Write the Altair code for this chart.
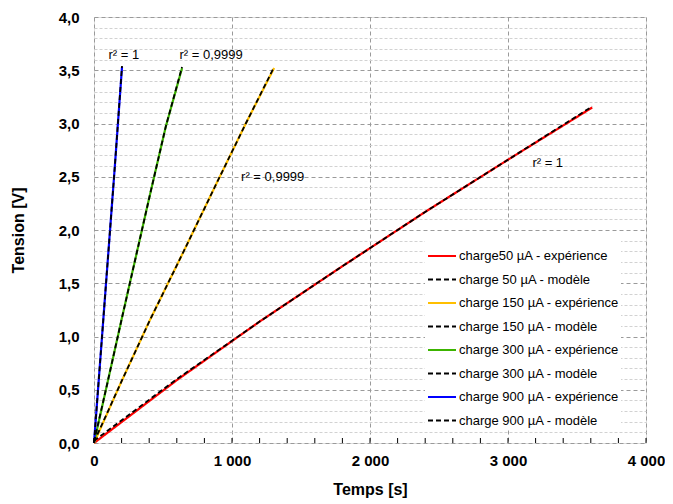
import altair as alt
import pandas as pd

# ---- data ----
series_names = [
    "charge50 µA - expérience",
    "charge 50 µA - modèle",
    "charge 150 µA - expérience",
    "charge 150 µA - modèle",
    "charge 300 µA - expérience",
    "charge 300 µA - modèle",
    "charge 900 µA - expérience",
    "charge 900 µA - modèle",
]
series_colors = ["#ff0000", "#000000", "#ffbf00", "#000000",
                 "#3cb400", "#000000", "#0000ff", "#000000"]

t50 = [0, 600, 1200, 1800, 2400, 3000, 3610]
v50_exp = [0, 0.59, 1.14, 1.66, 2.17, 2.66, 3.15]
v50_mod = [0.02, 0.60, 1.14, 1.66, 2.17, 2.66, 3.16]

t150 = [0, 200, 400, 650, 900, 1100, 1305]
v150_exp = [0, 0.58, 1.14, 1.80, 2.47, 3.00, 3.52]
v150_mod = [0.01, 0.58, 1.14, 1.80, 2.47, 3.00, 3.53]

t300 = [0, 100, 200, 300, 400, 520, 638]
v300_exp = [0, 0.58, 1.16, 1.73, 2.30, 2.97, 3.52]
v300_mod = [0.01, 0.58, 1.16, 1.73, 2.30, 2.97, 3.53]

t900 = [0, 50, 100, 150, 203]
v900_exp = [0, 0.86, 1.72, 2.58, 3.53]
v900_mod = [0, 0.86, 1.72, 2.58, 3.54]

ann_t = [216, 849, 1295, 3288]
ann_v = [3.64, 3.64, 2.50, 2.63]
ann_text = ["r² = 1", "r² = 0,9999", "r² = 0,9999", "r² = 1"]

x_minor_ticks = list(range(0, 4001, 200))
y_grid_values = [round(i * 0.1, 1) for i in range(0, 41)]
x_major = [0, 1000, 2000, 3000, 4000]

# ---- build tables ----
rows = []
for name, ts, vs in [
    (series_names[0], t50, v50_exp), (series_names[1], t50, v50_mod),
    (series_names[2], t150, v150_exp), (series_names[3], t150, v150_mod),
    (series_names[4], t300, v300_exp), (series_names[5], t300, v300_mod),
    (series_names[6], t900, v900_exp), (series_names[7], t900, v900_mod),
]:
    for t, v in zip(ts, vs):
        rows.append({"serie": name, "t": t, "v": v,
                     "kind": "mod" if "modèle" in name else "exp"})
df = pd.DataFrame(rows)
ann = pd.DataFrame({"t": ann_t, "v": ann_v, "label": ann_text})
ticks_df = pd.DataFrame({"t": x_minor_ticks})

W, H = 552, 426
FONT = "Liberation Sans"

x_scale = alt.Scale(domain=[0, 4000], nice=False)
y_scale = alt.Scale(domain=[0, 4], nice=False)

major_test = "abs(datum.value*2 - round(datum.value*2)) < 0.001"

x_axis = alt.Axis(
    title="Temps [s]", values=x_major,
    labelExpr="replace(format(datum.value, ','), ',', ' ')",
    grid=True, gridColor="#9a9a9a", gridDash=[4, 3], gridWidth=1,
    ticks=False, domain=False, labelFontSize=15, labelFontWeight="bold",
    labelPadding=10, titleFontSize=16, titleFontWeight="bold", titlePadding=13,
    labelFont=FONT, titleFont=FONT, labelColor="#000", titleColor="#000",
    labelFlush=False, labelOverlap=False,
)
y_axis = alt.Axis(
    title="Tension [V]", values=y_grid_values,
    labelExpr=f"{major_test} ? replace(format(datum.value, '.1f'), '.', ',') : ''",
    grid=True,
    gridColor={"condition": {"test": major_test, "value": "#9a9a9a"}, "value": "#d2d2d2"},
    gridDash={"condition": {"test": major_test, "value": [4, 3]}, "value": [3, 2]},
    gridWidth=1, ticks=False, domain=False, labelFontSize=15, labelFontWeight="bold",
    labelPadding=15, titleFontSize=16, titleFontWeight="bold", titlePadding=32,
    labelFont=FONT, titleFont=FONT, labelColor="#000", titleColor="#000",
    labelOverlap=False, labelFlush=False,
)

X = alt.X("t:Q", scale=x_scale, axis=x_axis)
Y = alt.Y("v:Q", scale=y_scale, axis=y_axis)

color = alt.Color("serie:N", scale=alt.Scale(domain=series_names, range=series_colors),
                  legend=alt.Legend(
                      title=None, orient="none", legendX=331, legendY=222,
                      symbolType="stroke", symbolSize=784, symbolStrokeWidth=2,
                      labelFontSize=13, labelFont=FONT, labelColor="#000",
                      rowPadding=1.5, fillColor="white", padding=2,
                      labelOffset=2))
dash = alt.StrokeDash("serie:N", scale=alt.Scale(
    domain=series_names,
    range=[[1, 0], [5, 3], [1, 0], [5, 3], [1, 0], [5, 3], [1, 0], [5, 3]]),
    legend=alt.Legend(title=None))

base = alt.Chart(df).encode(
    x=X, y=Y, color=color, strokeDash=dash, order=alt.Order("t:Q"),
)
exp_layer = base.transform_filter(alt.datum.kind == "exp").mark_line(strokeWidth=2.2)
mod_layer = base.transform_filter(alt.datum.kind == "mod").mark_line(strokeWidth=1.8)

tick_layer = alt.Chart(ticks_df).mark_rule(color="#000", strokeWidth=1).encode(
    x=X, y=alt.value(H), y2=alt.value(H - 5),
)

text_layer = alt.Chart(ann).mark_text(fontSize=13, font=FONT, color="#000").encode(
    x=X, y=Y, text="label:N",
)

chart = alt.layer(exp_layer, mod_layer, tick_layer, text_layer).properties(
    width=W, height=H,
    autosize=alt.AutoSizeParams(type="none"),
    padding={"left": 86, "top": 9, "right": 19, "bottom": 70},
).configure_view(stroke="#000", strokeWidth=2).configure(background="white")

chart.save("out.html", embed_options={"renderer": "svg", "actions": False})
